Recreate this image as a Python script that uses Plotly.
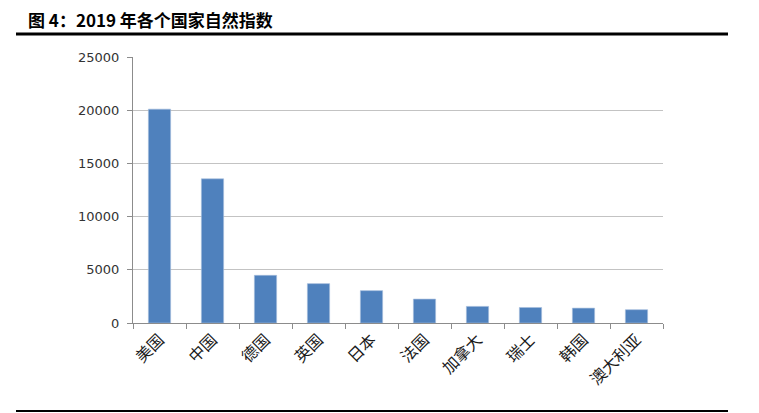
import plotly.graph_objects as go

countries = ["美国", "中国", "德国", "英国", "日本", "法国", "加拿大", "瑞士", "韩国", "澳大利亚"]
values = [20100, 13550, 4480, 3700, 3040, 2250, 1560, 1460, 1400, 1250]
y_ticks = [0, 5000, 10000, 15000, 20000, 25000]
y_tick_text = ["0", "5000", "10000", "15000", "20000", "25000"]
title_text = "图 4：2019 年各个国家自然指数"

# plot area in page pixels (page has an 8px body offset)
PX0, PX1, PY0, PY1 = 133, 663, 57, 323
W, H = 759, 413
OFF = 8


def px(x):
    return (x - PX0) / (PX1 - PX0)


def py(y):
    return (PY1 - y) / (PY1 - PY0)


fig = go.Figure()
fig.add_trace(go.Bar(
    x=countries, y=values,
    marker=dict(color="#4f81bd", line=dict(color="#a7c0de", width=0.6)),
    width=0.42,
))

fig.update_layout(
    width=W, height=H,
    margin=dict(l=PX0 - OFF, r=W - (PX1 - OFF), t=PY0 - OFF, b=H - (PY1 - OFF)),
    paper_bgcolor="white", plot_bgcolor="white",
    showlegend=False,
    font=dict(family="DejaVu Sans", color="#404040"),
)
fig.update_xaxes(
    type="category",
    showline=True, linecolor="#8c8c8c", linewidth=1,
    ticks="outside", tickson="boundaries", ticklen=5, tickcolor="#8c8c8c",
    tickangle=-45,
    tickfont=dict(family="Noto Sans CJK SC", size=16, color="#1a1a1a"),
    showgrid=False,
)
fig.update_yaxes(
    range=[0, 25000], tickvals=y_ticks, ticktext=y_tick_text,
    showline=True, linecolor="#8c8c8c", linewidth=1,
    ticks="outside", ticklen=5, tickcolor="#8c8c8c",
    ticklabelstandoff=5,
    showgrid=True, gridcolor="#c3c3c3", gridwidth=1,
    tickfont=dict(family="DejaVu Sans", size=13, color="#333333"),
    zeroline=False,
)

fig.add_annotation(
    xref="paper", yref="paper", x=px(26), y=py(20),
    xanchor="left", yanchor="middle", showarrow=False,
    text=title_text,
    font=dict(family="Noto Sans CJK SC", size=17, color="#000000", weight="bold"),
)
fig.add_shape(type="line", xref="paper", yref="paper",
              x0=px(16), x1=px(728), y0=py(34), y1=py(34),
              line=dict(color="black", width=3))
fig.add_shape(type="line", xref="paper", yref="paper",
              x0=px(16), x1=px(728), y0=py(411), y1=py(411),
              line=dict(color="black", width=2))

fig.write_html("out.html")
